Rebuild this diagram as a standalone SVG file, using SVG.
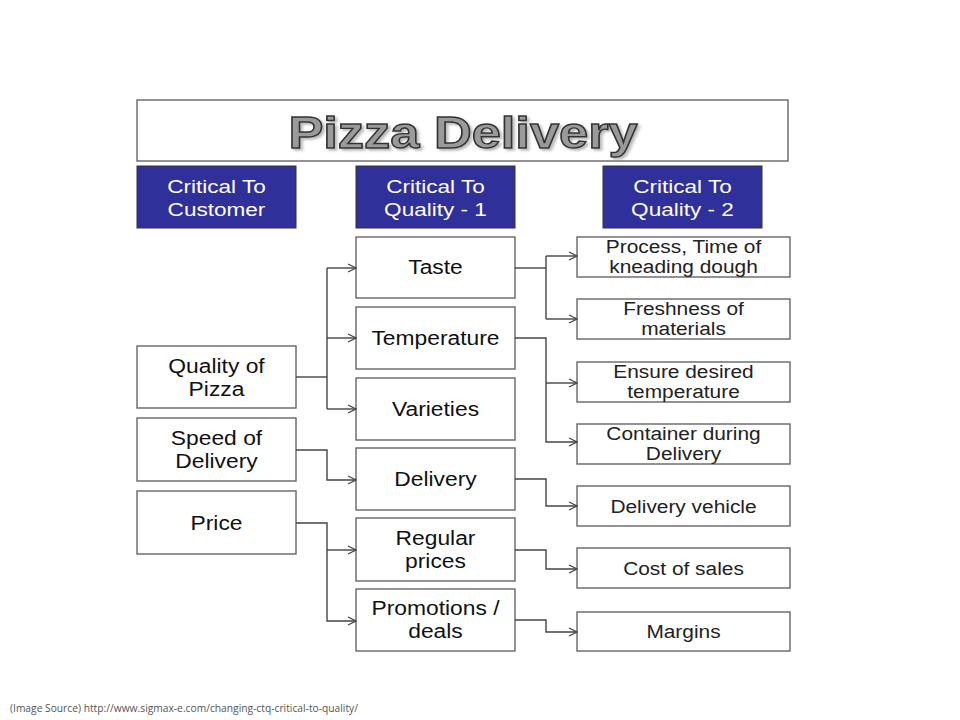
<svg xmlns="http://www.w3.org/2000/svg" width="960" height="720" viewBox="0 0 960 720">
<style>
.box{fill:#fff;stroke:#666;stroke-width:1.4}
.hdr{fill:#30309a;stroke:#333;stroke-width:1}
.ht{font-family:"Liberation Sans",Arial,sans-serif;font-size:18.5px;fill:#fff;text-anchor:middle}
.t2{font-family:"Liberation Sans",Arial,sans-serif;font-size:19.5px;fill:#111;text-anchor:middle}
.t3{font-family:"Liberation Sans",Arial,sans-serif;font-size:18px;fill:#222;text-anchor:middle}
.c{fill:none;stroke:#444;stroke-width:1.4}
</style>
<defs>
<marker id="ah" markerUnits="userSpaceOnUse" markerWidth="10" markerHeight="10" refX="9" refY="5" orient="auto">
<path d="M1,1 L9,5 L1,9" fill="none" stroke="#444" stroke-width="1.2"/>
</marker>
<filter id="sh" x="-5%" y="-20%" width="110%" height="140%">
<feDropShadow dx="2" dy="2" stdDeviation="1.2" flood-color="#888" flood-opacity="0.6"/>
</filter>
</defs>
<rect width="960" height="720" fill="#fff"/>

<g id="title">
<rect x="137" y="100" width="651" height="61" class="box"/>
<text transform="matrix(1.19 0 0 1 463 0)" x="0" y="148" font-family="Liberation Sans,Arial,sans-serif" font-weight="bold" font-size="44" fill="#9a9a9a" stroke="#333" stroke-width="1.4" text-anchor="middle" filter="url(#sh)">Pizza Delivery</text>
</g>

<g id="hdr-ctc"><rect x="137" y="166" width="159" height="62" class="hdr"/><g transform="matrix(1.22 0 0 1 216.5 0)"><text class="ht" x="0" y="193">Critical To</text><text class="ht" x="0" y="216">Customer</text></g></g>
<g id="hdr-ctq1"><rect x="356" y="166" width="159" height="62" class="hdr"/><g transform="matrix(1.22 0 0 1 435.5 0)"><text class="ht" x="0" y="193">Critical To</text><text class="ht" x="0" y="216">Quality - 1</text></g></g>
<g id="hdr-ctq2"><rect x="603" y="166" width="159" height="62" class="hdr"/><g transform="matrix(1.22 0 0 1 682.5 0)"><text class="ht" x="0" y="193">Critical To</text><text class="ht" x="0" y="216">Quality - 2</text></g></g>

<g id="quality"><rect x="137" y="346" width="159" height="62" class="box"/><g transform="matrix(1.17 0 0 1 216.5 0)"><text class="t2" x="0" y="373">Quality of</text><text class="t2" x="0" y="396">Pizza</text></g></g>
<g id="speed"><rect x="137" y="418" width="159" height="63" class="box"/><g transform="matrix(1.17 0 0 1 216.5 0)"><text class="t2" x="0" y="445">Speed of</text><text class="t2" x="0" y="468">Delivery</text></g></g>
<g id="price"><rect x="137" y="491" width="159" height="63" class="box"/><g transform="matrix(1.17 0 0 1 216.5 0)"><text class="t2" x="0" y="530">Price</text></g></g>

<g id="taste"><rect x="356" y="237" width="159" height="61" class="box"/><g transform="matrix(1.17 0 0 1 435.5 0)"><text class="t2" x="0" y="274">Taste</text></g></g>
<g id="temperature"><rect x="356" y="307" width="159" height="62" class="box"/><g transform="matrix(1.17 0 0 1 435.5 0)"><text class="t2" x="0" y="345">Temperature</text></g></g>
<g id="varieties"><rect x="356" y="378" width="159" height="62" class="box"/><g transform="matrix(1.17 0 0 1 435.5 0)"><text class="t2" x="0" y="416">Varieties</text></g></g>
<g id="delivery"><rect x="356" y="448" width="159" height="62" class="box"/><g transform="matrix(1.17 0 0 1 435.5 0)"><text class="t2" x="0" y="486">Delivery</text></g></g>
<g id="regular"><rect x="356" y="518" width="159" height="63" class="box"/><g transform="matrix(1.17 0 0 1 435.5 0)"><text class="t2" x="0" y="545">Regular</text><text class="t2" x="0" y="568">prices</text></g></g>
<g id="promotions"><rect x="356" y="589" width="159" height="62" class="box"/><g transform="matrix(1.17 0 0 1 435.5 0)"><text class="t2" x="0" y="615">Promotions /</text><text class="t2" x="0" y="638">deals</text></g></g>

<g id="process"><rect x="577" y="237" width="213" height="40" class="box"/><g transform="matrix(1.16 0 0 1 683.5 0)"><text class="t3" x="0" y="253">Process, Time of</text><text class="t3" x="0" y="273">kneading dough</text></g></g>
<g id="freshness"><rect x="577" y="299" width="213" height="40" class="box"/><g transform="matrix(1.16 0 0 1 683.5 0)"><text class="t3" x="0" y="315">Freshness of</text><text class="t3" x="0" y="335">materials</text></g></g>
<g id="ensure"><rect x="577" y="362" width="213" height="40" class="box"/><g transform="matrix(1.16 0 0 1 683.5 0)"><text class="t3" x="0" y="378">Ensure desired</text><text class="t3" x="0" y="398">temperature</text></g></g>
<g id="container"><rect x="577" y="424" width="213" height="40" class="box"/><g transform="matrix(1.16 0 0 1 683.5 0)"><text class="t3" x="0" y="440">Container during</text><text class="t3" x="0" y="460">Delivery</text></g></g>
<g id="vehicle"><rect x="577" y="486" width="213" height="40" class="box"/><g transform="matrix(1.16 0 0 1 683.5 0)"><text class="t3" x="0" y="513">Delivery vehicle</text></g></g>
<g id="cost"><rect x="577" y="548" width="213" height="40" class="box"/><g transform="matrix(1.16 0 0 1 683.5 0)"><text class="t3" x="0" y="575">Cost of sales</text></g></g>
<g id="margins"><rect x="577" y="612" width="213" height="39" class="box"/><g transform="matrix(1.16 0 0 1 683.5 0)"><text class="t3" x="0" y="638">Margins</text></g></g>

<g id="connectors">
<path class="c" d="M296,377 H327" stroke-width="2"/>
<path class="c" d="M327,268 V409"/>
<path class="c" d="M327,268 H356" marker-end="url(#ah)"/>
<path class="c" d="M327,338 H356" marker-end="url(#ah)"/>
<path class="c" d="M327,409 H356" marker-end="url(#ah)"/>
<path class="c" d="M296,450 H327 V480 H356" marker-end="url(#ah)"/>
<path class="c" d="M296,523 H327 V621 H356" marker-end="url(#ah)"/>
<path class="c" d="M327,550 H356" marker-end="url(#ah)"/>
<path class="c" d="M515,268 H546" stroke-width="2"/>
<path class="c" d="M546,256 V319"/>
<path class="c" d="M546,256 H577" marker-end="url(#ah)"/>
<path class="c" d="M546,319 H577" marker-end="url(#ah)"/>
<path class="c" d="M515,338 H546 V442 H577" marker-end="url(#ah)"/>
<path class="c" d="M546,383 H577" marker-end="url(#ah)"/>
<path class="c" d="M515,479 H546 V506 H577" marker-end="url(#ah)"/>
<path class="c" d="M515,550 H546 V569 H577" marker-end="url(#ah)"/>
<path class="c" d="M515,620 H546 V632 H577" marker-end="url(#ah)"/>
</g>

<text x="10" y="712" font-family="Open Sans,Liberation Sans,sans-serif" font-size="10" fill="#555" textLength="348" lengthAdjust="spacingAndGlyphs">(Image Source) http://www.sigmax-e.com/changing-ctq-critical-to-quality/</text>
</svg>
